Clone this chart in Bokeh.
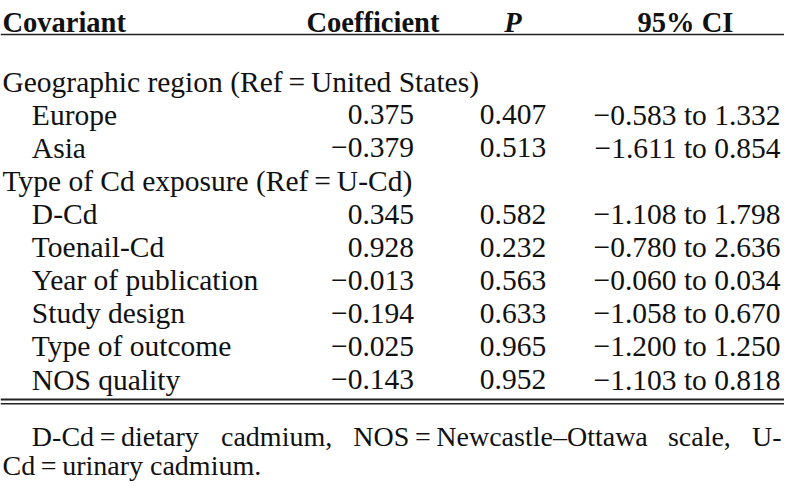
from bokeh.plotting import figure
from bokeh.models import Range1d, ColumnDataSource
from bokeh.core.properties import value
from bokeh.embed import file_html
from bokeh.resources import INLINE

# ---- table data ----
headers = ["Covariant", "Coefficient", "P", "95% CI"]
covariates = ["Geographic region (Ref\u2009=\u2009United States)", "Europe", "Asia",
              "Type of Cd exposure (Ref\u2009=\u2009U-Cd)", "D-Cd", "Toenail-Cd",
              "Year of publication", "Study design", "Type of outcome", "NOS quality"]
is_group = [True, False, False, True, False, False, False, False, False, False]
coefficients = [None, 0.375, -0.379, None, 0.345, 0.928, -0.013, -0.194, -0.025, -0.143]
p_values = [None, 0.407, 0.513, None, 0.582, 0.232, 0.563, 0.633, 0.965, 0.952]
ci_lower = [None, -0.583, -1.611, None, -1.108, -0.780, -0.060, -1.058, -1.200, -1.103]
ci_upper = [None, 1.332, 0.854, None, 1.798, 2.636, 0.034, 0.670, 1.250, 0.818]
footnote_line1 = ["D-Cd\u2009=\u2009dietary", "cadmium,", "NOS\u2009=\u2009Newcastle\u2013Ottawa", "scale,", "U-"]
footnote_line2 = "Cd\u2009=\u2009urinary cadmium."

FONT = value("Liberation Serif")
FS = "29.5px"
FS_HDR = "28.5px"
FS_NOTE = "28px"
INK = "#111111"

def fmt(v):
    if v is None:
        return ""
    s = f"{abs(v):.3f}"
    return ("\u2212" + s) if v < 0 else s

W, H = 784, 484
p = figure(width=W, height=H, x_range=Range1d(0, 800), y_range=Range1d(512, 0),
           output_backend="svg", toolbar_location=None, min_border=0)
p.axis.visible = False
p.grid.visible = False
p.outline_line_color = None
p.background_fill_color = "white"
p.border_fill_color = "white"

# layout constants (reference pixel space)
HEADER_Y = 23
ROW0_Y = 86
ROW_STEP = 35
X_LEFT = 2
X_INDENT = 32
X_COEF_R = 422
X_P_C = 523
X_CI_R = 796
X_COEF_HDR = 380
X_CI_HDR = 699

# headers
p.text(x=[X_LEFT], y=[HEADER_Y], text=[headers[0]], text_font=FONT, text_font_size=FS_HDR,
       text_font_style="bold", text_align="left", text_baseline="alphabetic", text_color=INK)
p.text(x=[X_COEF_HDR, X_CI_HDR], y=[HEADER_Y, HEADER_Y], text=[headers[1], headers[3]],
       text_font=FONT, text_font_size=FS_HDR, text_font_style="bold", text_align="center",
       text_baseline="alphabetic", text_color=INK)
p.text(x=[X_P_C], y=[HEADER_Y], text=[headers[2]], text_font=FONT, text_font_size=FS_HDR,
       text_font_style="bold italic", text_align="center", text_baseline="alphabetic",
       text_color=INK)

# rows
ys = [ROW0_Y + i * ROW_STEP for i in range(len(covariates))]
xs = [X_LEFT if g else X_INDENT for g in is_group]
src = ColumnDataSource(dict(
    x=xs, y=ys, label=covariates,
    coef=[fmt(c) for c in coefficients],
    pv=[fmt(v) for v in p_values],
    ci=["" if lo is None else f"{fmt(lo)} to {fmt(hi)}" for lo, hi in zip(ci_lower, ci_upper)],
    xc=[X_COEF_R] * len(ys), xp=[X_P_C] * len(ys), xci=[X_CI_R] * len(ys),
))
common = dict(source=src, text_font=FONT, text_font_size=FS, text_baseline="alphabetic",
              text_color=INK)
p.text(x="x", y="y", text="label", text_align="left", **common)
p.text(x="xc", y="y", text="coef", text_align="right", **common)
p.text(x="xp", y="y", text="pv", text_align="center", **common)
p.text(x="xci", y="y", text="ci", text_align="right", **common)

# rules
p.line(x=[0, 800], y=[36, 36], line_color="#222222", line_width=1.5)
p.line(x=[0, 800], y=[422, 422], line_color="#222222", line_width=2)
p.line(x=[0, 800], y=[426.5, 426.5], line_color="#222222", line_width=1.5)

# footnote (justified first line)
NOTE1_Y = 461
NOTE2_Y = 492
fn_x = [32, 225, 360, 681, 797]
fn_align = ["left", "left", "left", "left", "right"]
for t, x, a in zip(footnote_line1, fn_x, fn_align):
    p.text(x=[x], y=[NOTE1_Y], text=[t], text_font=FONT, text_font_size=FS_NOTE, text_align=a,
           text_baseline="alphabetic", text_color=INK)
p.text(x=[X_LEFT], y=[NOTE2_Y], text=[footnote_line2], text_font=FONT, text_font_size=FS_NOTE,
       text_align="left", text_baseline="alphabetic", text_color=INK)

open("out.html", "w").write(file_html(p, INLINE))
